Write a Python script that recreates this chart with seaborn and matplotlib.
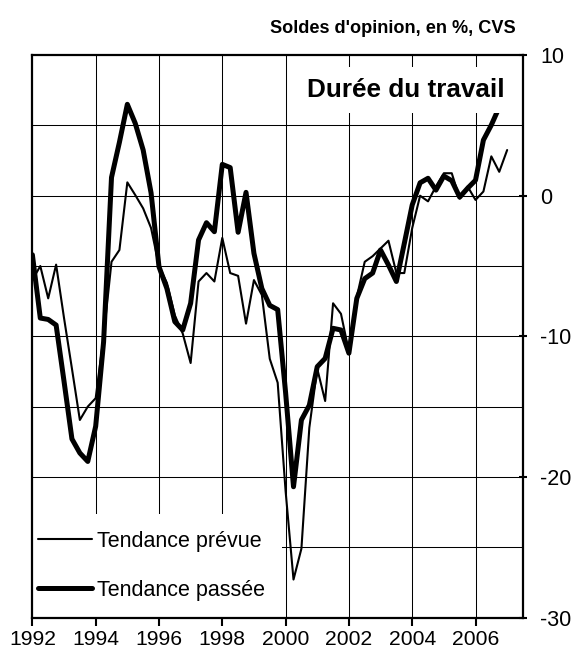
import matplotlib
matplotlib.use("Agg")
import matplotlib.pyplot as plt
import seaborn as sns
import pandas as pd
import numpy as np

sns.set_theme(style="white")
plt.rcParams['font.family'] = ['Liberation Sans', 'DejaVu Sans']

# --- data (quarterly, start 1992 Q1) ---
start_year = 1992.0
prevue = [-6.0, -5.0, -7.3, -4.9, -8.7, -12.3, -15.95, -15.0,
          -14.4, -10.0, -4.7, -3.86, 0.95, 0.05, -0.9, -2.3,
          -5.0, -6.2, -8.5, -9.8, -11.9, -6.1, -5.5, -6.1,
          -3.0, -5.5, -5.7, -9.1, -6.0, -7.06, -11.6, -13.3,
          -21.0, -27.3, -25.1, -16.5, -12.3, -14.6, -7.65, -8.4,
          -11.1, -7.2, -4.7, -4.3, -3.75, -3.2, -5.5, -5.5,
          -2.3, 0.0, -0.4, 0.66, 1.6, 1.6, -0.2, 0.66,
          -0.3, 0.3, 2.8, 1.7, 3.25]
passee = [-4.2, -8.7, -8.8, -9.2, -13.2, -17.3, -18.3, -18.9,
          -16.4, -10.4, 1.3, 3.8, 6.5, 5.15, 3.25, 0.2,
          -5.05, -6.6, -8.96, -9.55, -7.65, -3.15, -1.92, -2.56,
          2.23, 2.0, -2.6, 0.24, -4.1, -6.6, -7.8, -8.1,
          -14.0, -20.7, -15.95, -14.9, -12.16, -11.57, -9.43, -9.55,
          -11.2, -7.3, -5.9, -5.5, -3.86, -4.93, -6.1, -3.4,
          -0.66, 0.92, 1.24, 0.4, 1.4, 1.07, -0.1, 0.53,
          1.1, 3.96, 5.03, 6.3]
labels = ["Tendance prévue", "Tendance passée"]
x_ticks = [1992, 1994, 1996, 1998, 2000, 2002, 2004, 2006]
y_ticks = [-30, -20, -10, 0, 10]
y_grid = [-25, -20, -15, -10, -5, 0, 5]
title = "Durée du travail"
header = "Soldes d'opinion, en %, CVS"

t_prev = [start_year + 0.25 * i for i in range(len(prevue))]
t_pass = [start_year + 0.25 * i for i in range(len(passee))]
df_prev = pd.DataFrame({"t": t_prev, "v": prevue})
df_pass = pd.DataFrame({"t": t_pass, "v": passee})

fig = plt.figure(figsize=(5.72, 6.57), dpi=100)
ax = fig.add_axes([0.0566, 0.0601, 0.8577, 0.856])

sns.lineplot(data=df_prev, x="t", y="v", ax=ax, color="black", linewidth=1.5,
             label=labels[0], zorder=3)
sns.lineplot(data=df_pass, x="t", y="v", ax=ax, color="black", linewidth=3.6,
             label=labels[1], zorder=3)

ax.set_xlim(1992, 2007.5)
ax.set_ylim(-30, 10)
ax.set_xlabel("")
ax.set_ylabel("")

# grid
ax.set_axisbelow(True)
for yv in y_grid:
    ax.axhline(yv, color="black", lw=0.75, zorder=1)
for xv in x_ticks[1:]:
    ax.axvline(xv, color="black", lw=0.75, zorder=1)

# ticks
ax.set_xticks(x_ticks)
ax.set_xticklabels([str(v) for v in x_ticks])
ax.yaxis.tick_right()
ax.set_yticks(y_ticks)
ax.set_yticklabels([str(v) for v in y_ticks])
ax.tick_params(axis="x", direction="out", length=6, width=1.5, labelsize=15.2,
               pad=3, color="black", labelcolor="black", bottom=True)
ax.tick_params(axis="y", direction="inout", length=6, width=1.5, labelsize=15.5,
               pad=9.5, color="black", labelcolor="black", right=True, left=False)

for s in ax.spines.values():
    s.set_visible(True)
    s.set_color("black")
    s.set_linewidth(1.6)
    s.set_zorder(6)

# title box
ax.text(0.9633, 0.938, title, transform=ax.transAxes, ha="right", va="center",
        fontsize=18.8, fontweight="bold", color="black", zorder=5,
        bbox=dict(boxstyle="square,pad=0.42", facecolor="white", edgecolor="none"))

# legend
leg = ax.legend(loc="lower left", bbox_to_anchor=(-0.0228, 0.0), borderaxespad=0,
                frameon=True, fancybox=False, framealpha=1, facecolor="white",
                edgecolor="none", fontsize=15.5, handlelength=2.5, handletextpad=0.25,
                borderpad=0.78, labelspacing=1.3)
leg.set_zorder(5)
for t in leg.get_texts():
    t.set_color("black")

fig.text(0.902, 0.957, header, ha="right", va="center", fontsize=13.1,
         fontweight="bold", color="black")

fig.savefig("out.png", dpi=100, facecolor="white")
